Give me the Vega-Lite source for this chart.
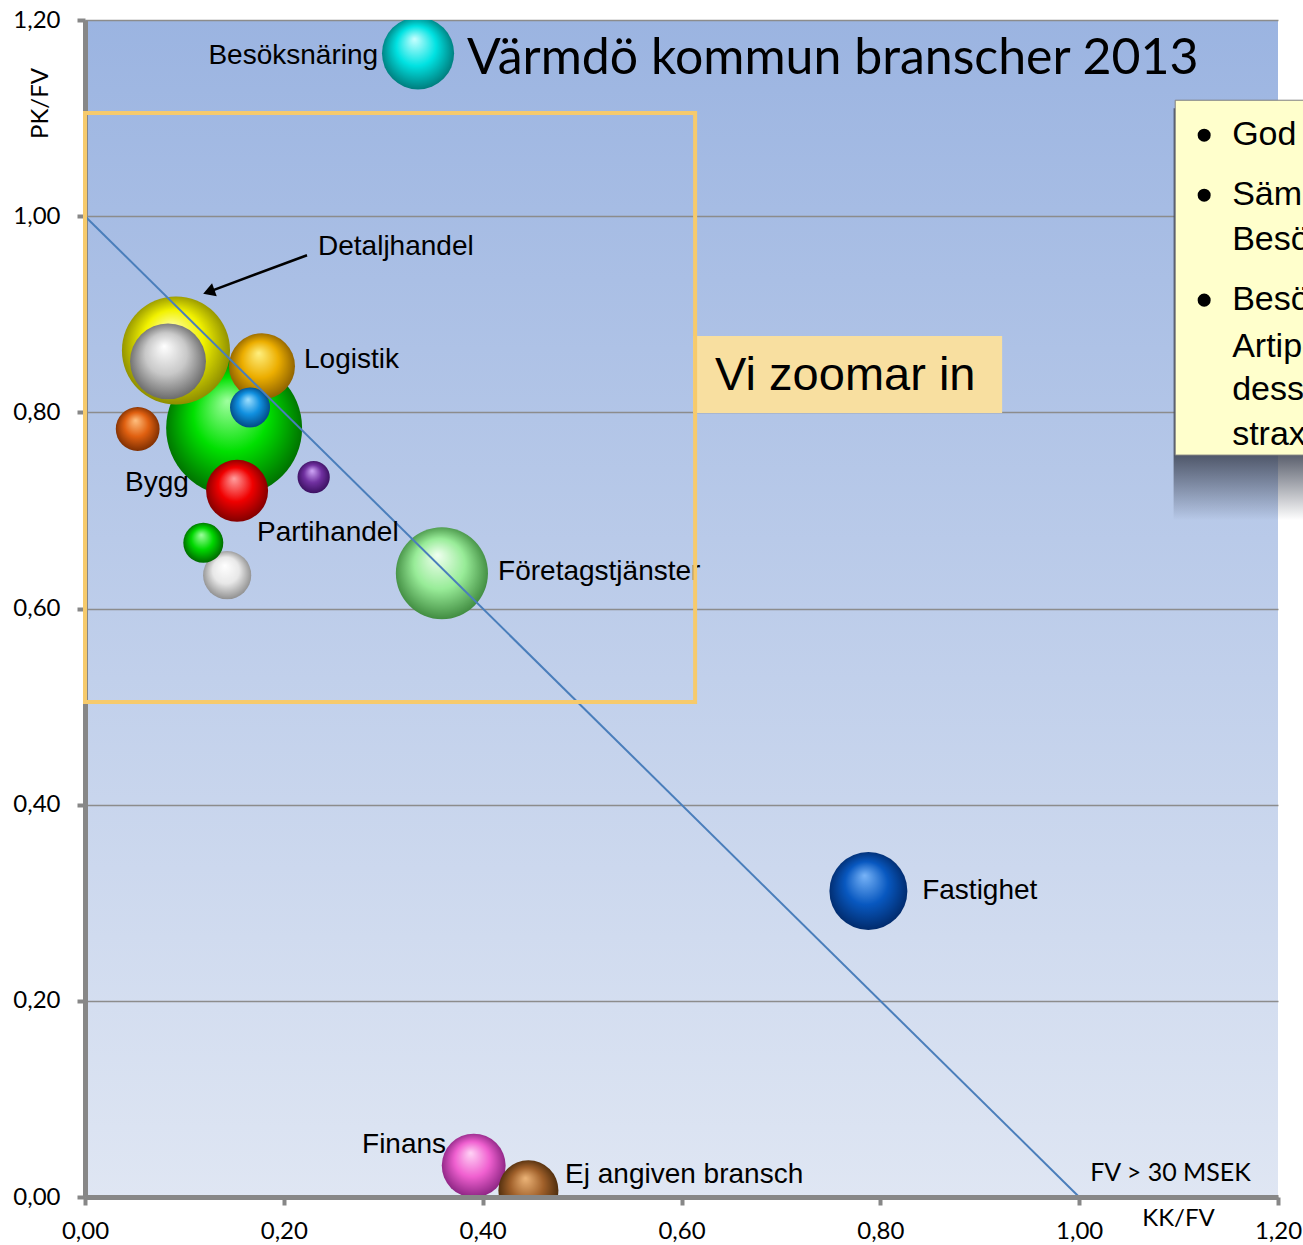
{
  "$schema": "https://vega.github.io/schema/vega-lite/v6.json",
  "width": 1193,
  "height": 1177,
  "autosize": {"type": "none"},
  "padding": {"left": 85, "top": 20, "right": 25, "bottom": 48},
  "background": "white",
  "view": {"stroke": null, "fill": {"gradient": "linear", "x1": 0, "y1": 0, "x2": 0, "y2": 1, "stops": [{"offset": 0, "color": "#9bb4e1"}, {"offset": 1, "color": "#dfe6f3"}]}},
  "datasets": {
    "bubblor": [
      {"bransch": "Bransch A", "kk": 0.150, "pk": 0.784, "storlek": 462},
      {"bransch": "Detaljhandel", "kk": 0.0915, "pk": 0.863, "storlek": 292},
      {"bransch": "Bransch B", "kk": 0.0835, "pk": 0.852, "storlek": 144},
      {"bransch": "Logistik", "kk": 0.178, "pk": 0.847, "storlek": 109},
      {"bransch": "Bransch C", "kk": 0.166, "pk": 0.805, "storlek": 40},
      {"bransch": "Partihandel", "kk": 0.153, "pk": 0.720, "storlek": 96},
      {"bransch": "Bygg", "kk": 0.053, "pk": 0.783, "storlek": 48},
      {"bransch": "Bransch D", "kk": 0.230, "pk": 0.734, "storlek": 26},
      {"bransch": "Bransch E", "kk": 0.143, "pk": 0.634, "storlek": 58},
      {"bransch": "Bransch F", "kk": 0.119, "pk": 0.667, "storlek": 40},
      {"bransch": "Företagstjänster", "kk": 0.359, "pk": 0.636, "storlek": 212},
      {"bransch": "Besöksnäring", "kk": 0.335, "pk": 1.166, "storlek": 130},
      {"bransch": "Fastighet", "kk": 0.788, "pk": 0.312, "storlek": 152},
      {"bransch": "Finans", "kk": 0.391, "pk": 0.032, "storlek": 102},
      {"bransch": "Ej angiven bransch", "kk": 0.446, "pk": 0.007, "storlek": 90}
    ],
    "etiketter": [
      {"text": "Detaljhandel", "kk": 0.2344, "pk": 0.9684},
      {"text": "Logistik", "kk": 0.2203, "pk": 0.8532},
      {"text": "Bygg", "kk": 0.0402, "pk": 0.7278},
      {"text": "Partihandel", "kk": 0.1730, "pk": 0.6769},
      {"text": "Företagstjänster", "kk": 0.4155, "pk": 0.6371},
      {"text": "Fastighet", "kk": 0.8421, "pk": 0.3119},
      {"text": "Ej angiven bransch", "kk": 0.4829, "pk": 0.0224},
      {"text": "Besöksnäring", "kk": 0.2948, "pk": 1.1631},
      {"text": "Finans", "kk": 0.3632, "pk": 0.0530}
    ],
    "rubrik": [{"text": "Värmdö kommun branscher 2013", "kk": 0.3843, "pk": 1.1601}],
    "fv": [{"text": "FV > 30 MSEK", "kk": 1.0111, "pk": 0.0245}],
    "diagonal": [{"kk": 0, "pk": 1}, {"kk": 1, "pk": 0}],
    "pil": [{"kk": 0.2233, "pk": 0.9602, "kk2": 0.1264, "pk2": 0.9236}],
    "zoomruta": [{"kk": 0.0, "kk2": 0.6137, "pk": 0.5046, "pk2": 1.1051}],
    "zoometikett": [{"kk": 0.6117, "kk2": 0.9225, "pk": 0.7992, "pk2": 0.8777, "text": "Vi zoomar in", "tk": 0.6338, "tp": 0.8369}],
    "skugga": [{"kk": 1.095, "kk2": 1.35, "pk": 0.69, "pk2": 1.11}],
    "textruta": [{"kk": 1.0966, "kk2": 1.35, "pk": 0.7564, "pk2": 1.1182}],
    "rutrader": [
      {"text": "God lönsamhet", "kk": 1.1539, "pk": 1.0826, "punkt": true},
      {"text": "Sämre lönsamhet för", "kk": 1.1539, "pk": 1.0214, "punkt": true},
      {"text": "Besöksnäringen", "kk": 1.1539, "pk": 0.9755, "punkt": false},
      {"text": "Besöksnäringen:", "kk": 1.1539, "pk": 0.9144, "punkt": true},
      {"text": "Artipelag", "kk": 1.1539, "pk": 0.8665, "punkt": false},
      {"text": "dessutom", "kk": 1.1539, "pk": 0.8226, "punkt": false},
      {"text": "strax", "kk": 1.1539, "pk": 0.7768, "punkt": false}
    ]
  },
  "layer": [
    {
      "data": {"name": "skugga"},
      "mark": {"type": "rect", "fill": {"gradient": "linear", "x1": 0, "y1": 0, "x2": 0, "y2": 1, "stops": [{"offset": 0, "color": "rgba(62,68,84,0.85)"}, {"offset": 0.842, "color": "rgba(62,68,84,0.85)"}, {"offset": 1, "color": "rgba(62,68,84,0)"}]}},
      "encoding": {
        "x": {"field": "kk", "type": "quantitative", "title": "KK/FV", "scale": {"domain": [0, 1.2], "nice": false, "zero": false},
          "axis": {"values": [0, 0.2, 0.4, 0.6, 0.8, 1.0, 1.2], "labelExpr": "replace(format(datum.value, '.2f'), '.', ',')", "grid": false, "zindex": 1, "labelFlush": false, "labelPadding": 14, "titleX": 1093, "titleY": 21, "titleAlign": "center", "titleBaseline": "middle"}},
        "x2": {"field": "kk2"},
        "y": {"field": "pk", "type": "quantitative", "title": "PK/FV", "scale": {"domain": [0, 1.2], "nice": false, "zero": false},
          "axis": {"values": [0, 0.2, 0.4, 0.6, 0.8, 1.0, 1.2], "labelExpr": "replace(format(datum.value, '.2f'), '.', ',')", "grid": true, "zindex": 0, "labelFlush": false, "labelPadding": 17, "titleX": -45, "titleY": 83, "titleAlign": "center", "titleBaseline": "middle", "titleAngle": -90}},
        "y2": {"field": "pk2"}
      }
    },
    {
      "data": {"name": "textruta"},
      "mark": {"type": "rect", "fill": "#ffffcc", "stroke": "#7f7f7f", "strokeWidth": 1},
      "encoding": {
        "x": {"field": "kk", "type": "quantitative", "title": "KK/FV"},
        "x2": {"field": "kk2"},
        "y": {"field": "pk", "type": "quantitative", "title": "PK/FV"},
        "y2": {"field": "pk2"}
      }
    },
    {
      "data": {"name": "rutrader"},
      "mark": {"type": "text", "font": "Liberation Sans", "fontSize": 34, "align": "left", "baseline": "middle", "color": "black"},
      "encoding": {
        "x": {"field": "kk", "type": "quantitative", "title": "KK/FV"},
        "y": {"field": "pk", "type": "quantitative", "title": "PK/FV"},
        "text": {"field": "text"}
      }
    },
    {
      "data": {"name": "rutrader"},
      "transform": [{"filter": "datum.punkt"}],
      "mark": {"type": "point", "shape": "circle", "filled": true, "color": "black", "opacity": 1, "size": 170, "xOffset": -28},
      "encoding": {
        "x": {"field": "kk", "type": "quantitative", "title": "KK/FV"},
        "y": {"field": "pk", "type": "quantitative", "title": "PK/FV"}
      }
    },
    {
      "data": {"name": "bubblor"},
      "encoding": {
        "x": {"field": "kk", "type": "quantitative", "title": "KK/FV"},
        "y": {"field": "pk", "type": "quantitative", "title": "PK/FV"},
        "size": {"field": "storlek", "type": "quantitative", "legend": null, "scale": {"type": "linear", "domain": [0, 500], "range": [0, 20000]}}
      },
      "layer": [
        {"transform": [{"filter": "datum.bransch == 'Bransch A'"}], "mark": {"type": "point", "shape": "circle", "filled": true, "opacity": 1, "clip": true, "strokeWidth": 0, "fill": {"gradient": "radial", "x1": 0.45, "y1": 0.3, "r1": 0, "x2": 0.5, "y2": 0.5, "r2": 0.55, "stops": [{"offset": 0, "color": "#a0ffa0"}, {"offset": 0.5, "color": "#00e000"}, {"offset": 1, "color": "#006000"}]}}},
        {"transform": [{"filter": "datum.bransch == 'Detaljhandel'"}], "mark": {"type": "point", "shape": "circle", "filled": true, "opacity": 1, "clip": true, "strokeWidth": 0, "fill": {"gradient": "radial", "x1": 0.45, "y1": 0.3, "r1": 0, "x2": 0.5, "y2": 0.5, "r2": 0.55, "stops": [{"offset": 0, "color": "#ffffb8"}, {"offset": 0.5, "color": "#f2f200"}, {"offset": 1, "color": "#7e7e00"}]}}},
        {"transform": [{"filter": "datum.bransch == 'Bransch B'"}], "mark": {"type": "point", "shape": "circle", "filled": true, "opacity": 1, "clip": true, "strokeWidth": 0, "fill": {"gradient": "radial", "x1": 0.45, "y1": 0.3, "r1": 0, "x2": 0.5, "y2": 0.5, "r2": 0.55, "stops": [{"offset": 0, "color": "#ffffff"}, {"offset": 0.5, "color": "#c8c8c8"}, {"offset": 1, "color": "#5e5e5e"}]}}},
        {"transform": [{"filter": "datum.bransch == 'Logistik'"}], "mark": {"type": "point", "shape": "circle", "filled": true, "opacity": 1, "clip": true, "strokeWidth": 0, "fill": {"gradient": "radial", "x1": 0.45, "y1": 0.3, "r1": 0, "x2": 0.5, "y2": 0.5, "r2": 0.55, "stops": [{"offset": 0, "color": "#fff080"}, {"offset": 0.5, "color": "#ecae00"}, {"offset": 1, "color": "#805600"}]}}},
        {"transform": [{"filter": "datum.bransch == 'Bransch C'"}], "mark": {"type": "point", "shape": "circle", "filled": true, "opacity": 1, "clip": true, "strokeWidth": 0, "fill": {"gradient": "radial", "x1": 0.45, "y1": 0.3, "r1": 0, "x2": 0.5, "y2": 0.5, "r2": 0.55, "stops": [{"offset": 0, "color": "#a0e0ff"}, {"offset": 0.5, "color": "#1090e0"}, {"offset": 1, "color": "#004078"}]}}},
        {"transform": [{"filter": "datum.bransch == 'Partihandel'"}], "mark": {"type": "point", "shape": "circle", "filled": true, "opacity": 1, "clip": true, "strokeWidth": 0, "fill": {"gradient": "radial", "x1": 0.45, "y1": 0.3, "r1": 0, "x2": 0.5, "y2": 0.5, "r2": 0.55, "stops": [{"offset": 0, "color": "#ffa0a0"}, {"offset": 0.5, "color": "#f00000"}, {"offset": 1, "color": "#720000"}]}}},
        {"transform": [{"filter": "datum.bransch == 'Bygg'"}], "mark": {"type": "point", "shape": "circle", "filled": true, "opacity": 1, "clip": true, "strokeWidth": 0, "fill": {"gradient": "radial", "x1": 0.45, "y1": 0.3, "r1": 0, "x2": 0.5, "y2": 0.5, "r2": 0.55, "stops": [{"offset": 0, "color": "#ffc080"}, {"offset": 0.5, "color": "#e06010"}, {"offset": 1, "color": "#702800"}]}}},
        {"transform": [{"filter": "datum.bransch == 'Bransch D'"}], "mark": {"type": "point", "shape": "circle", "filled": true, "opacity": 1, "clip": true, "strokeWidth": 0, "fill": {"gradient": "radial", "x1": 0.45, "y1": 0.3, "r1": 0, "x2": 0.5, "y2": 0.5, "r2": 0.55, "stops": [{"offset": 0, "color": "#d0a8f8"}, {"offset": 0.5, "color": "#7030a0"}, {"offset": 1, "color": "#340c58"}]}}},
        {"transform": [{"filter": "datum.bransch == 'Bransch E'"}], "mark": {"type": "point", "shape": "circle", "filled": true, "opacity": 1, "clip": true, "strokeWidth": 0, "fill": {"gradient": "radial", "x1": 0.45, "y1": 0.3, "r1": 0, "x2": 0.5, "y2": 0.5, "r2": 0.55, "stops": [{"offset": 0, "color": "#ffffff"}, {"offset": 0.5, "color": "#e8e8e8"}, {"offset": 1, "color": "#848484"}]}}},
        {"transform": [{"filter": "datum.bransch == 'Bransch F'"}], "mark": {"type": "point", "shape": "circle", "filled": true, "opacity": 1, "clip": true, "strokeWidth": 0, "fill": {"gradient": "radial", "x1": 0.45, "y1": 0.3, "r1": 0, "x2": 0.5, "y2": 0.5, "r2": 0.55, "stops": [{"offset": 0, "color": "#a0ffa0"}, {"offset": 0.5, "color": "#00d800"}, {"offset": 1, "color": "#005800"}]}}},
        {"transform": [{"filter": "datum.bransch == 'Företagstjänster'"}], "mark": {"type": "point", "shape": "circle", "filled": true, "opacity": 1, "clip": true, "strokeWidth": 0, "fill": {"gradient": "radial", "x1": 0.45, "y1": 0.3, "r1": 0, "x2": 0.5, "y2": 0.5, "r2": 0.55, "stops": [{"offset": 0, "color": "#f0fff0"}, {"offset": 0.5, "color": "#98ec98"}, {"offset": 1, "color": "#347e34"}]}}},
        {"transform": [{"filter": "datum.bransch == 'Besöksnäring'"}], "mark": {"type": "point", "shape": "circle", "filled": true, "opacity": 1, "clip": true, "strokeWidth": 0, "fill": {"gradient": "radial", "x1": 0.45, "y1": 0.3, "r1": 0, "x2": 0.5, "y2": 0.5, "r2": 0.55, "stops": [{"offset": 0, "color": "#c8ffff"}, {"offset": 0.5, "color": "#00e2e2"}, {"offset": 1, "color": "#006e6e"}]}}},
        {"transform": [{"filter": "datum.bransch == 'Fastighet'"}], "mark": {"type": "point", "shape": "circle", "filled": true, "opacity": 1, "clip": true, "strokeWidth": 0, "fill": {"gradient": "radial", "x1": 0.45, "y1": 0.3, "r1": 0, "x2": 0.5, "y2": 0.5, "r2": 0.55, "stops": [{"offset": 0, "color": "#78b4f8"}, {"offset": 0.5, "color": "#0858c0"}, {"offset": 1, "color": "#002460"}]}}},
        {"transform": [{"filter": "datum.bransch == 'Finans'"}], "mark": {"type": "point", "shape": "circle", "filled": true, "opacity": 1, "clip": true, "strokeWidth": 0, "fill": {"gradient": "radial", "x1": 0.45, "y1": 0.3, "r1": 0, "x2": 0.5, "y2": 0.5, "r2": 0.55, "stops": [{"offset": 0, "color": "#ffd4f6"}, {"offset": 0.5, "color": "#f060d0"}, {"offset": 1, "color": "#7e1c78"}]}}},
        {"transform": [{"filter": "datum.bransch == 'Ej angiven bransch'"}], "mark": {"type": "point", "shape": "circle", "filled": true, "opacity": 1, "clip": true, "strokeWidth": 0, "fill": {"gradient": "radial", "x1": 0.45, "y1": 0.3, "r1": 0, "x2": 0.5, "y2": 0.5, "r2": 0.55, "stops": [{"offset": 0, "color": "#ecb478"}, {"offset": 0.5, "color": "#a0602a"}, {"offset": 1, "color": "#402408"}]}}}
      ]
    },
    {
      "data": {"name": "diagonal"},
      "mark": {"type": "line", "color": "#4a7ebb", "strokeWidth": 2},
      "encoding": {
        "x": {"field": "kk", "type": "quantitative", "title": "KK/FV"},
        "y": {"field": "pk", "type": "quantitative", "title": "PK/FV"}
      }
    },
    {
      "data": {"name": "pil"},
      "mark": {"type": "rule", "color": "black", "strokeWidth": 2.5},
      "encoding": {
        "x": {"field": "kk", "type": "quantitative", "title": "KK/FV"},
        "y": {"field": "pk", "type": "quantitative", "title": "PK/FV"},
        "x2": {"field": "kk2"},
        "y2": {"field": "pk2"}
      }
    },
    {
      "data": {"name": "pil"},
      "mark": {"type": "point", "shape": "triangle", "filled": true, "color": "black", "opacity": 1, "size": 190, "angle": 250},
      "encoding": {
        "x": {"field": "kk2", "type": "quantitative", "title": "KK/FV"},
        "y": {"field": "pk2", "type": "quantitative", "title": "PK/FV"}
      }
    },
    {
      "data": {"name": "etiketter"},
      "transform": [{"filter": "datum.text != 'Besöksnäring' && datum.text != 'Finans'"}],
      "mark": {"type": "text", "font": "Liberation Sans", "fontSize": 28, "align": "left", "baseline": "middle", "color": "black"},
      "encoding": {
        "x": {"field": "kk", "type": "quantitative", "title": "KK/FV"},
        "y": {"field": "pk", "type": "quantitative", "title": "PK/FV"},
        "text": {"field": "text"}
      }
    },
    {
      "data": {"name": "etiketter"},
      "transform": [{"filter": "datum.text == 'Besöksnäring' || datum.text == 'Finans'"}],
      "mark": {"type": "text", "font": "Liberation Sans", "fontSize": 28, "align": "right", "baseline": "middle", "color": "black"},
      "encoding": {
        "x": {"field": "kk", "type": "quantitative", "title": "KK/FV"},
        "y": {"field": "pk", "type": "quantitative", "title": "PK/FV"},
        "text": {"field": "text"}
      }
    },
    {
      "data": {"name": "rubrik"},
      "mark": {"type": "text", "font": "Lato", "fontSize": 50, "align": "left", "baseline": "middle", "color": "black"},
      "encoding": {
        "x": {"field": "kk", "type": "quantitative", "title": "KK/FV"},
        "y": {"field": "pk", "type": "quantitative", "title": "PK/FV"},
        "text": {"field": "text"}
      }
    },
    {
      "data": {"name": "fv"},
      "mark": {"type": "text", "font": "Lato", "fontSize": 25, "align": "left", "baseline": "middle", "color": "black"},
      "encoding": {
        "x": {"field": "kk", "type": "quantitative", "title": "KK/FV"},
        "y": {"field": "pk", "type": "quantitative", "title": "PK/FV"},
        "text": {"field": "text"}
      }
    },
    {
      "data": {"name": "zoometikett"},
      "mark": {"type": "rect", "fill": "#f8dfa0", "stroke": null},
      "encoding": {
        "x": {"field": "kk", "type": "quantitative", "title": "KK/FV"},
        "x2": {"field": "kk2"},
        "y": {"field": "pk", "type": "quantitative", "title": "PK/FV"},
        "y2": {"field": "pk2"}
      }
    },
    {
      "data": {"name": "zoometikett"},
      "mark": {"type": "text", "font": "Liberation Sans", "fontSize": 47, "align": "left", "baseline": "middle", "color": "black"},
      "encoding": {
        "x": {"field": "tk", "type": "quantitative", "title": "KK/FV"},
        "y": {"field": "tp", "type": "quantitative", "title": "PK/FV"},
        "text": {"field": "text"}
      }
    },
    {
      "data": {"name": "zoomruta"},
      "mark": {"type": "rect", "filled": false, "fill": null, "stroke": "#f6ca6c", "strokeWidth": 4},
      "encoding": {
        "x": {"field": "kk", "type": "quantitative", "title": "KK/FV"},
        "x2": {"field": "kk2"},
        "y": {"field": "pk", "type": "quantitative", "title": "PK/FV"},
        "y2": {"field": "pk2"}
      }
    }
  ],
  "config": {
    "font": "Liberation Sans",
    "axis": {
      "domainColor": "#878787",
      "domainWidth": 5,
      "tickColor": "#878787",
      "tickWidth": 4,
      "tickSize": 8,
      "labelFont": "Lato",
      "labelFontSize": 24,
      "labelColor": "black",
      "titleFont": "Lato",
      "titleFontSize": 24,
      "titleFontWeight": "normal",
      "titleColor": "black",
      "gridColor": "#8c8c8c",
      "gridWidth": 1.5,
      "gridOpacity": 1
    }
  }
}
